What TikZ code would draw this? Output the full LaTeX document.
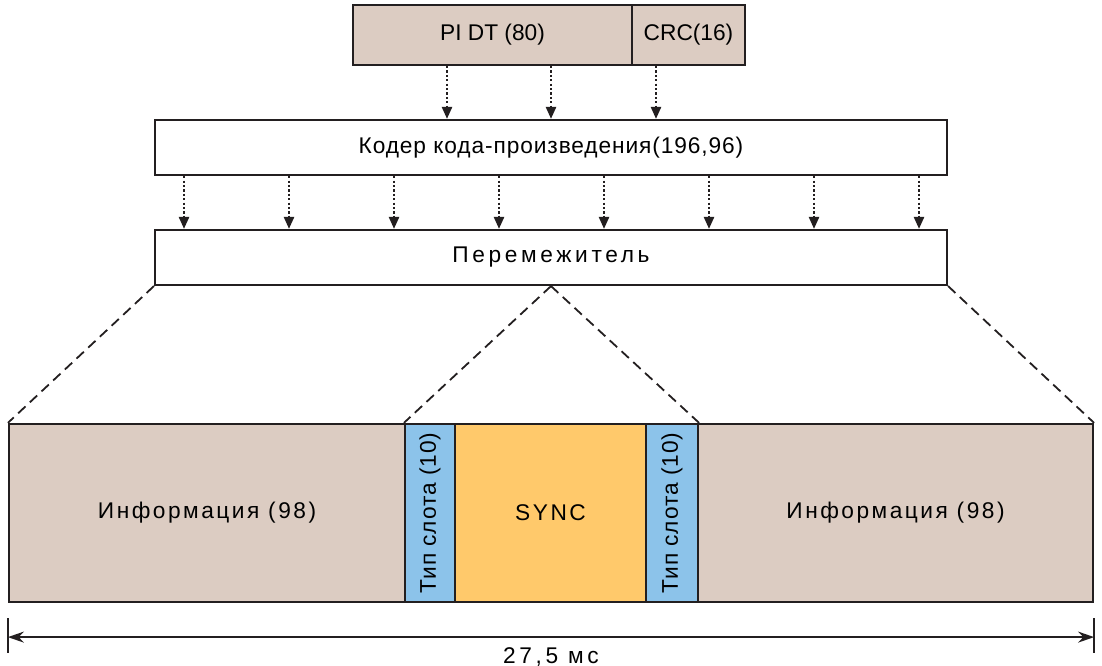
\documentclass[tikz,border=0pt]{standalone}
\usepackage{fontspec}
\setmainfont{Liberation Sans}
\newfontfamily\narrowsp[LetterSpace=4]{Liberation Sans}
\newfontfamily\spaced[LetterSpace=11]{Liberation Sans}
\newfontfamily\wide[LetterSpace=16]{Liberation Sans}
\usetikzlibrary{arrows.meta,calc}
\definecolor{tan}{HTML}{DCCCC2}
\definecolor{slotblue}{HTML}{8CC3EA}
\definecolor{syncorange}{HTML}{FFC96B}
\definecolor{ink}{HTML}{231F20}

\begin{document}
\begin{tikzpicture}[x=1pt,y=-1pt,
    font=\fontsize{22.7}{26}\selectfont,
    block/.style={draw=ink, line width=2.2pt, rectangle, inner sep=0pt},
    field/.style={block, fill=tan, minimum height=178pt},
    slot/.style={block, fill=slotblue, minimum height=178pt},
    flow/.style={ink, line width=2.4pt, dash pattern=on 2.2pt off 2.2pt,
      -{Triangle[length=12pt,width=10pt]}},
    fan/.style={ink, line width=1.8pt, dash pattern=on 10pt off 6pt}]
      \useasboundingbox (0,0) rectangle (1102,666);
      % Define nodes
      \node[block, fill=tan, minimum width=279pt, minimum height=60pt] (pidt) at (492.5,35) {PI DT (80)};
      \node[block, fill=tan, minimum width=113pt, minimum height=60pt] (crc) at (688.5,35) {CRC(16)};
      \node[block, minimum width=792pt, minimum height=55pt] (enc) at (551,147.5) {\narrowsp Кодер кода-произведения(196,96)};
      \node[block, minimum width=792pt, minimum height=55pt] (il) at (551,257.5) {\wide Перемежитель};
      \node[field, minimum width=396pt] (info1) at (207,513) {\spaced Информация (98)};
      \node[slot, minimum width=50pt] (slot1) at (430,513) {\rotatebox{90}{\narrowsp Тип слота (10)}};
      \node[block, fill=syncorange, minimum width=191pt, minimum height=178pt] (sync) at (550.5,513) {\spaced SYNC};
      \node[slot, minimum width=52pt] (slot2) at (672,513) {\rotatebox{90}{\narrowsp Тип слота (10)}};
      \node[field, minimum width=395pt] (info2) at (895.5,513) {\spaced Информация (98)};
      % Arrows
      \foreach \x in {447,551,656}
        \draw[flow] (\x,0 |- pidt.south) -- (\x,0 |- enc.north);
      \foreach \x in {184,289,394,499,604,709,814,919}
        \draw[flow] (\x,0 |- enc.south) -- (\x,0 |- il.north);
      % Fan-out to the burst
      \draw[fan] (il.south west) -- (info1.north west);
      \draw[fan] (il.south east) -- (info2.north east);
      \draw[fan] (il.south) -- (slot1.north west);
      \draw[fan] (il.south) -- (slot2.north east);
      % Duration
      \coordinate (dl) at ($(info1.south west)+(0,34)$);
      \coordinate (dr) at ($(info2.south east)+(0,34)$);
      \draw[ink, line width=1.6pt] ($(dl)+(0,-19)$) -- ($(dl)+(0,16)$);
      \draw[ink, line width=1.6pt] ($(dr)+(0,-19)$) -- ($(dr)+(0,16)$);
      \draw[ink, line width=1.6pt, {Stealth[length=16pt,width=11pt]}-{Stealth[length=16pt,width=11pt]}] (dl) -- (dr);
      \node[anchor=north, inner sep=0pt] (dur) at ($(dl)!0.5!(dr)+(0,10)$) {\wide 27,5 мс};
    \end{tikzpicture}
\end{document}
